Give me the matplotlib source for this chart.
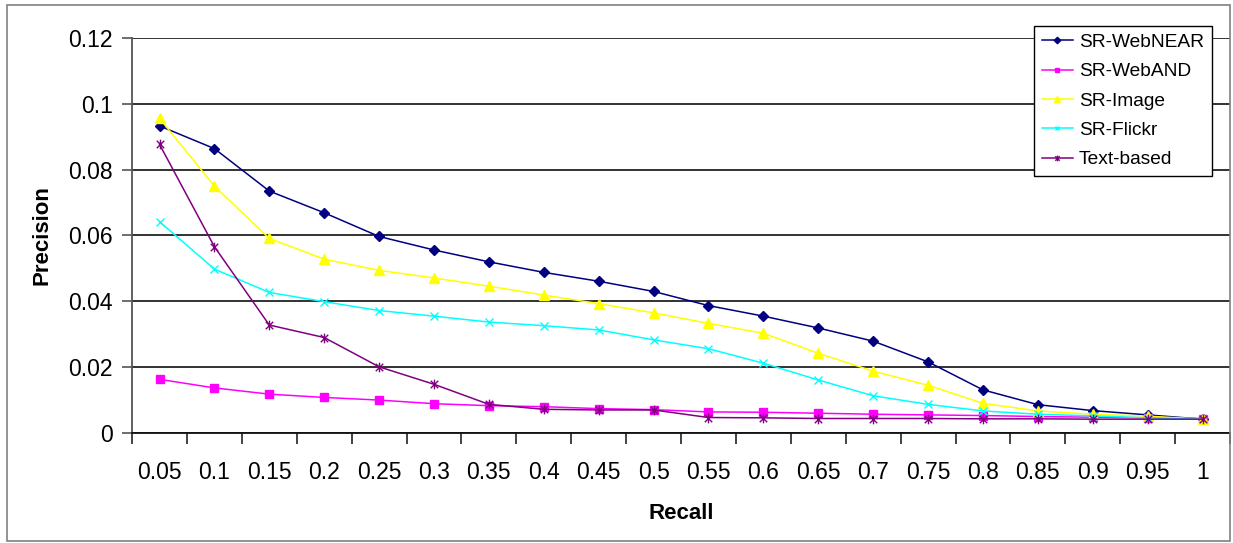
import numpy as np
import matplotlib
matplotlib.use("Agg")
import matplotlib.pyplot as plt
from matplotlib.path import Path
from matplotlib.patches import Rectangle

plt.rcParams['font.family'] = ['Liberation Sans', 'DejaVu Sans']

recall = ['0.05', '0.1', '0.15', '0.2', '0.25', '0.3', '0.35', '0.4', '0.45', '0.5',
          '0.55', '0.6', '0.65', '0.7', '0.75', '0.8', '0.85', '0.9', '0.95', '1']

web_near = [0.0933, 0.0864, 0.0735, 0.0669, 0.0597, 0.0556, 0.0520, 0.0488, 0.0461, 0.0430,
            0.0387, 0.0355, 0.0319, 0.0279, 0.0216, 0.0131, 0.0086, 0.0068, 0.0055, 0.0042]
web_and = [0.0163, 0.0137, 0.0118, 0.0108, 0.0100, 0.0089, 0.0083, 0.0080, 0.0074, 0.0071,
           0.0064, 0.0063, 0.0060, 0.0057, 0.0055, 0.0053, 0.0050, 0.0048, 0.0046, 0.0044]
image = [0.0956, 0.0750, 0.0591, 0.0528, 0.0494, 0.0471, 0.0446, 0.0419, 0.0393, 0.0365,
         0.0333, 0.0303, 0.0242, 0.0188, 0.0145, 0.0090, 0.0067, 0.0057, 0.0051, 0.0042]
flickr = [0.0642, 0.0498, 0.0427, 0.0399, 0.0372, 0.0355, 0.0337, 0.0326, 0.0313, 0.0283,
          0.0256, 0.0212, 0.0161, 0.0113, 0.0087, 0.0067, 0.0057, 0.0052, 0.0046, 0.0042]
text_based = [0.0877, 0.0566, 0.0328, 0.0290, 0.0201, 0.0148, 0.0087, 0.0072, 0.0070, 0.0070,
              0.0047, 0.0046, 0.0044, 0.0044, 0.0044, 0.0043, 0.0043, 0.0042, 0.0042, 0.0042]

# asterisk marker: an x with a vertical bar through it
star = Path([(-1, -1), (1, 1), (-1, 1), (1, -1), (0, -1.3), (0, 1.3)],
            [Path.MOVETO, Path.LINETO, Path.MOVETO, Path.LINETO, Path.MOVETO, Path.LINETO])

series = [
    ('SR-WebNEAR', web_near, '#000080', 'D', 5.5),
    ('SR-WebAND', web_and, '#FF00FF', 's', 6),
    ('SR-Image', image, '#FFFF00', '^', 7),
    ('SR-Flickr', flickr, '#00FFFF', 'x', 6),
    ('Text-based', text_based, '#800080', star, 7),
]

fig = plt.figure(figsize=(12.33, 5.43), dpi=100)
ax = fig.add_axes([0.1071, 0.2026, 0.8905, 0.7274])

x = np.arange(len(recall))
for name, vals, col, mk, ms in series:
    ax.plot(x, vals, color=col, lw=1.1, marker=mk, markersize=ms,
            markerfacecolor=col, markeredgecolor=col, markeredgewidth=1.0, label=name)

ax.set_xlim(-0.5, len(recall) - 0.5)
ax.set_ylim(0, 0.12)
ax.set_yticks(np.arange(0, 0.121, 0.02))
ax.set_yticklabels(['0', '0.02', '0.04', '0.06', '0.08', '0.1', '0.12'])
ax.yaxis.grid(True, color='#222222', lw=1.3)
ax.set_axisbelow(True)

# category ticks sit between the labels
ax.set_xticks(np.arange(-0.5, len(recall), 1.0))
ax.set_xticklabels([])
ax.set_xticks(x, minor=True)
ax.set_xticklabels(recall, minor=True)
ax.tick_params(axis='x', which='major', direction='out', length=8, width=1.2, color='#222222')
ax.tick_params(axis='x', which='minor', length=0, pad=20, labelsize=16.5)
ax.tick_params(axis='y', direction='out', length=7, width=1.2, color='#555555', pad=7, labelsize=16.5)

for s in ['top', 'right']:
    ax.spines[s].set_visible(False)
ax.spines['left'].set_color('#555555')
ax.spines['left'].set_linewidth(1.3)
ax.spines['bottom'].set_color('#111111')
ax.spines['bottom'].set_linewidth(1.3)

ax.set_xlabel('Recall', fontsize=16, fontweight='bold', labelpad=14)
ax.set_ylabel('Precision', fontsize=16, fontweight='bold', labelpad=11)

leg = ax.legend(loc='upper left', bbox_to_anchor=(0.8386, 0.952), bbox_transform=fig.transFigure,
                fontsize=13.8, frameon=True, fancybox=False, edgecolor='black',
                markerscale=0.6, handlelength=1.65, handletextpad=0.3, labelspacing=0.62,
                borderpad=0.4, borderaxespad=0)
leg.get_frame().set_linewidth(1.0)
leg.get_frame().set_alpha(1)

# outer chart border
fig.patches.append(Rectangle((7 / 1233, 1 - 541 / 543), 1223 / 1233, 536 / 543,
                             transform=fig.transFigure, fill=False, edgecolor='#808080', lw=1.2))

fig.savefig('out.png', dpi=100)
